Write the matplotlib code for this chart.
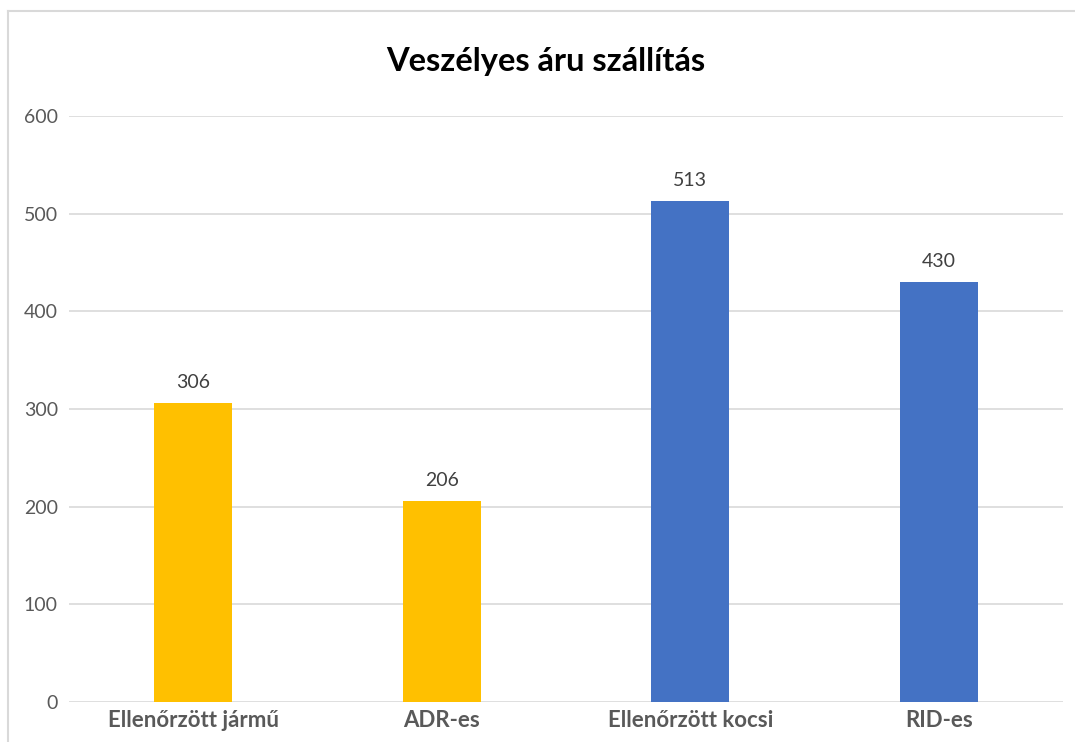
import matplotlib
matplotlib.use("Agg")
import matplotlib.pyplot as plt
from matplotlib.lines import Line2D

categories = ["Ellenőrzött jármű", "ADR-es", "Ellenőrzött kocsi", "RID-es"]
values = [306, 206, 513, 430]
colors = ["#FFC000", "#FFC000", "#4472C4", "#4472C4"]
yticks = [0, 100, 200, 300, 400, 500, 600]

plt.rcParams["font.family"] = ["Lato", "DejaVu Sans"]

W, H = 1075, 742
fig = plt.figure(figsize=(W / 100, H / 100), dpi=100)
ax = fig.add_axes([69 / W, 1 - 702 / H, (1063 - 69) / W, (702 - 116) / H])

x = list(range(len(categories)))
bars = ax.bar(x, values, width=0.315, color=colors, zorder=3)
for b, v in zip(bars, values):
    ax.text(b.get_x() + b.get_width() / 2, v + 12, str(v), ha="center", va="bottom",
            fontsize=14, color="#404040")

ax.set_xlim(-0.5, len(categories) - 0.5)
ax.set_ylim(0, 600)
ax.set_yticks(yticks)
ax.set_yticklabels([str(t) for t in yticks], fontsize=14, color="#595959")
ax.set_xticks(x)
ax.set_xticklabels(categories, fontsize=16, fontweight="bold", color="#595959")
ax.tick_params(axis="both", length=0)
ax.tick_params(axis="y", pad=8)
ax.tick_params(axis="x", pad=6)
ax.grid(axis="y", color="#D9D9D9", lw=1.2, zorder=0)
for s in ax.spines.values():
    s.set_visible(False)

fig.text(546 / W, 1 - 62 / H, "Veszélyes áru szállítás", ha="center", va="center",
         fontsize=23.5, fontweight="bold", color="#000000")

# chart frame (left and top edges visible)
fig.add_artist(Line2D([8 / W, 8 / W], [0, 1 - 11 / H], color="#D9D9D9", lw=1.5))
fig.add_artist(Line2D([8 / W, 1], [1 - 11 / H, 1 - 11 / H], color="#D9D9D9", lw=1.5))

fig.savefig("out.png", dpi=100)
